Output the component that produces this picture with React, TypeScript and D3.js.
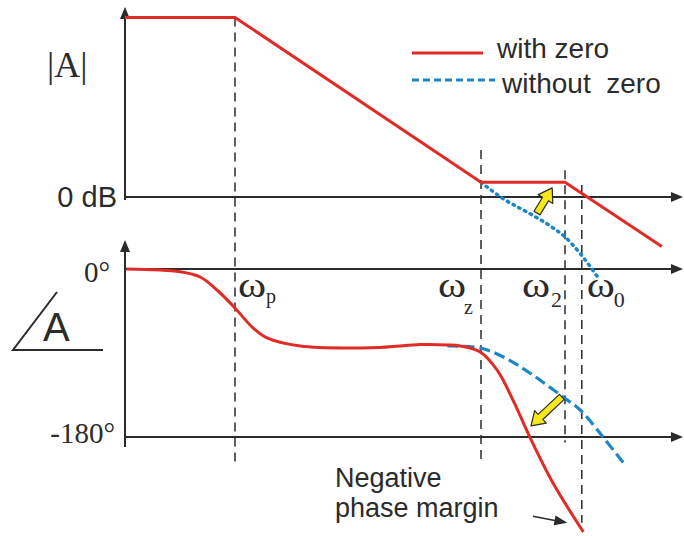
import * as d3 from "d3"

// log10(ω) positions (decades) of the break frequencies
const breaks = [
  { key: "p", f: 1.375, magTop: 67, phBottom: -210 },
  { key: "z", f: 4.45, magTop: 17.5, phBottom: -208 },
  { key: "2", f: 5.5, magTop: 10, phBottom: -186 },
  { key: "0", f: 5.71, magTop: 4.5, phBottom: -272 },
]

// magnitude (dB), with zero: asymptotic segments
const magFreq = [0, 1.375, 4.45, 5.5, 6.71]
const magWithZero = [67, 67, 5.5, 5.5, -18.5]

// magnitude (dB), without zero
const magFreqNoZero = [4.45, 4.72, 5.09, 5.35, 5.5, 5.7, 5.9]
const magNoZero = [5.5, -0.5, -6.7, -11.5, -14.9, -21.5, -29.5]

// phase (deg), with zero
const phFreq = [0.02, 0.69, 0.94, 1.15, 1.375, 1.6, 1.775, 2.19, 3.19, 3.69, 4.03, 4.19, 4.44, 4.65, 4.85, 5.06, 5.35, 5.73]
const phWithZero = [0, -3, -8.6, -22.5, -41.8, -63.2, -73.9, -82.5, -84, -81, -81.4, -82.5, -88.9, -108.2, -140.4, -180, -229.3, -281.8]

// phase (deg), without zero
const phFreqNoZero = [4.03, 4.44, 4.73, 5.06, 5.475, 5.69, 5.975, 6.25]
const phNoZero = [-82.5, -84.6, -94.3, -111.4, -137.1, -151.1, -180, -210]

const magTicks = [{ label: "0 dB", value: 0 }]
const phaseTicks = [{ label: "0°", value: 0 }, { label: "-180°", value: -180 }]

const legendItems = [
  { label: "with zero", color: "#e12b26", dash: null },
  { label: "without  zero", color: "#1d86c8", dash: "7,4" },
]

const RED = "#e12b26"
const BLUE = "#1d86c8"
const INK = "#2b2b2b"
const YELLOW = "#f7e81a"
const SANS = "'Liberation Sans', Arial, sans-serif"
const SERIF = "'Liberation Serif', 'Times New Roman', serif"

function arrowHead(tipX: number, tipY: number, angle: number, len = 11, half = 5) {
  const c = Math.cos(angle), s = Math.sin(angle)
  const bx = tipX - c * len, by = tipY - s * len
  return `${tipX},${tipY} ${bx - s * half},${by + c * half} ${bx + s * half},${by - c * half}`
}

// block arrow from (x1,y1) to (x2,y2)
function blockArrow(x1: number, y1: number, x2: number, y2: number) {
  const L = Math.hypot(x2 - x1, y2 - y1)
  const a = Math.atan2(y2 - y1, x2 - x1)
  const hw = 3.5, headL = 13, headW = 8.5
  const pts = [
    [0, -hw], [L - headL, -hw], [L - headL, -headW], [L, 0],
    [L - headL, headW], [L - headL, hw], [0, hw],
  ]
  const c = Math.cos(a), s = Math.sin(a)
  return pts.map(([u, v]) => `${x1 + u * c - v * s},${y1 + u * s + v * c}`).join(" ")
}

export default function App() {
  const width = 684
  const height = 536

  const x = d3.scaleLinear().domain([0, 7]).range([125, 685])
  const yMag = d3.scaleLinear().domain([-30, 70]).range([277.4, 9.4])
  const yPh = d3.scaleLinear().domain([-180, 0]).range([437, 269])

  const magLine = d3.line<number>().x((_, i) => x(magFreq[i])).y(d => yMag(d))
  const magNoZeroLine = d3.line<number>()
    .x((_, i) => x(magFreqNoZero[i])).y(d => yMag(d)).curve(d3.curveMonotoneX)
  const phLine = d3.line<number>()
    .x((_, i) => x(phFreq[i])).y(d => yPh(d)).curve(d3.curveCatmullRom.alpha(0.5))
  const phNoZeroLine = d3.line<number>()
    .x((_, i) => x(phFreqNoZero[i])).y(d => yPh(d)).curve(d3.curveCatmullRom.alpha(0.5))

  const axisX0 = x(0)
  const axisX1 = 683

  // yellow arrows (data coords)
  const a1 = [x(5.15), yMag(-6), x(5.34), yMag(3.4)]
  const a2 = [x(5.46), yPh(-137), x(5.075), yPh(-168)]
  // small black pointer
  const p1 = [x(5.1), yPh(-265), x(5.53), yPh(-272)]

  const subLabel: Record<string, { dx: number; sdx: number; sy: number; ssize: number }> = {
    p: { dx: 3, sdx: 31, sy: 303, ssize: 20 },
    z: { dx: -43, sdx: -17, sy: 314, ssize: 20 },
    "2": { dx: -43, sdx: -14, sy: 307, ssize: 22 },
    "0": { dx: 5, sdx: 32, sy: 307, ssize: 22 },
  }

  return (
    <svg width={width} height={height} style={{ position: "absolute", left: 0, top: 0, background: "#fff" }}>
      {/* dashed break-frequency lines */}
      {breaks.map(b => (
        <line key={b.key} x1={x(b.f)} x2={x(b.f)} y1={yMag(b.magTop)} y2={yPh(b.phBottom)}
          stroke={INK} strokeWidth={1.5} strokeDasharray="9,6" />
      ))}

      {/* magnitude axes */}
      <line x1={axisX0} x2={axisX0} y1={16} y2={yMag(0) + 3} stroke={INK} strokeWidth={2} />
      <polygon points={arrowHead(axisX0, 7, -Math.PI / 2, 12, 5)} fill={INK} />
      <line x1={axisX0} x2={axisX1 - 8} y1={yMag(0)} y2={yMag(0)} stroke={INK} strokeWidth={2} />
      <polygon points={arrowHead(axisX1, yMag(0), 0, 12, 5)} fill={INK} />

      {/* phase axes */}
      <line x1={axisX0} x2={axisX0} y1={250} y2={447} stroke={INK} strokeWidth={2} />
      <polygon points={arrowHead(axisX0, 240, -Math.PI / 2, 12, 5)} fill={INK} />
      {phaseTicks.map(t => (
        <g key={t.label}>
          <line x1={axisX0} x2={axisX1 - 8} y1={yPh(t.value)} y2={yPh(t.value)} stroke={INK} strokeWidth={2} />
          <polygon points={arrowHead(axisX1, yPh(t.value), 0, 12, 5)} fill={INK} />
          <text x={t.value === 0 ? 110 : 115} y={yPh(t.value) + (t.value === 0 ? 13 : 6)} textAnchor="end"
            fontFamily={SERIF} fontSize={29} fill={INK}>{t.label}</text>
        </g>
      ))}
      {magTicks.map(t => (
        <text key={t.label} x={117} y={yMag(t.value) + 10} textAnchor="end"
          fontFamily={SANS} fontSize={29} fill={INK}>{t.label}</text>
      ))}

      {/* curves */}
      <path d={magNoZeroLine(magNoZero) ?? ""} fill="none" stroke={BLUE} strokeWidth={3.5}
        strokeDasharray="1.5,5" strokeLinecap="round" />
      <path d={magLine(magWithZero) ?? ""} fill="none" stroke={RED} strokeWidth={3} />
      <path d={phNoZeroLine(phNoZero) ?? ""} fill="none" stroke={BLUE} strokeWidth={3.2}
        strokeDasharray="11,5" />
      <path d={phLine(phWithZero) ?? ""} fill="none" stroke={RED} strokeWidth={3} />

      {/* yellow arrows */}
      <polygon points={blockArrow(a1[0], a1[1], a1[2], a1[3])} fill={YELLOW} stroke={INK} strokeWidth={1.2} strokeLinejoin="round" />
      <polygon points={blockArrow(a2[0], a2[1], a2[2], a2[3])} fill={YELLOW} stroke={INK} strokeWidth={1.2} strokeLinejoin="round" />

      {/* pointer to phase margin */}
      <line x1={p1[0]} y1={p1[1]} x2={p1[2] - 10} y2={p1[3] - 1.8} stroke={INK} strokeWidth={1.6} />
      <polygon points={arrowHead(p1[2], p1[3], Math.atan2(p1[3] - p1[1], p1[2] - p1[0]), 13, 5)} fill={INK} />

      {/* ω labels */}
      {breaks.map(b => {
        const s = subLabel[b.key]
        return (
          <g key={`l${b.key}`} fontFamily={SERIF} fill={INK}>
            <text transform={`translate(${x(b.f) + s.dx},297) scale(1.22,1)`} fontSize={35}>ω</text>
            <text x={x(b.f) + s.sdx} y={s.sy} fontSize={s.ssize}>{b.key}</text>
          </g>
        )
      })}

      {/* axis titles */}
      <text x={47} y={77} fontFamily={SERIF} fontSize={36} fill={INK}>|A|</text>
      <polyline points="57,292 13,350 103,350" fill="none" stroke={INK} strokeWidth={2} />
      <text x={43} y={341} fontFamily={SANS} fontSize={40} fill={INK}>A</text>

      {/* legend */}
      {legendItems.map((d, i) => (
        <g key={d.label}>
          <line x1={412} x2={i === 0 ? 483 : 495} y1={53 + i * 27} y2={53 + i * 27}
            stroke={d.color} strokeWidth={3} strokeDasharray={d.dash ?? undefined} />
          <text x={i === 0 ? 497 : 502} y={58 + i * 35} fontFamily={SANS} fontSize={28} fill={INK}
            style={{ whiteSpace: "pre" }}>{d.label}</text>
        </g>
      ))}

      {/* annotation */}
      <text x={335} y={487} fontFamily={SANS} fontSize={27} fill={INK}>Negative</text>
      <text x={335} y={517} fontFamily={SANS} fontSize={27} fill={INK}>phase margin</text>
    </svg>
  )
}
